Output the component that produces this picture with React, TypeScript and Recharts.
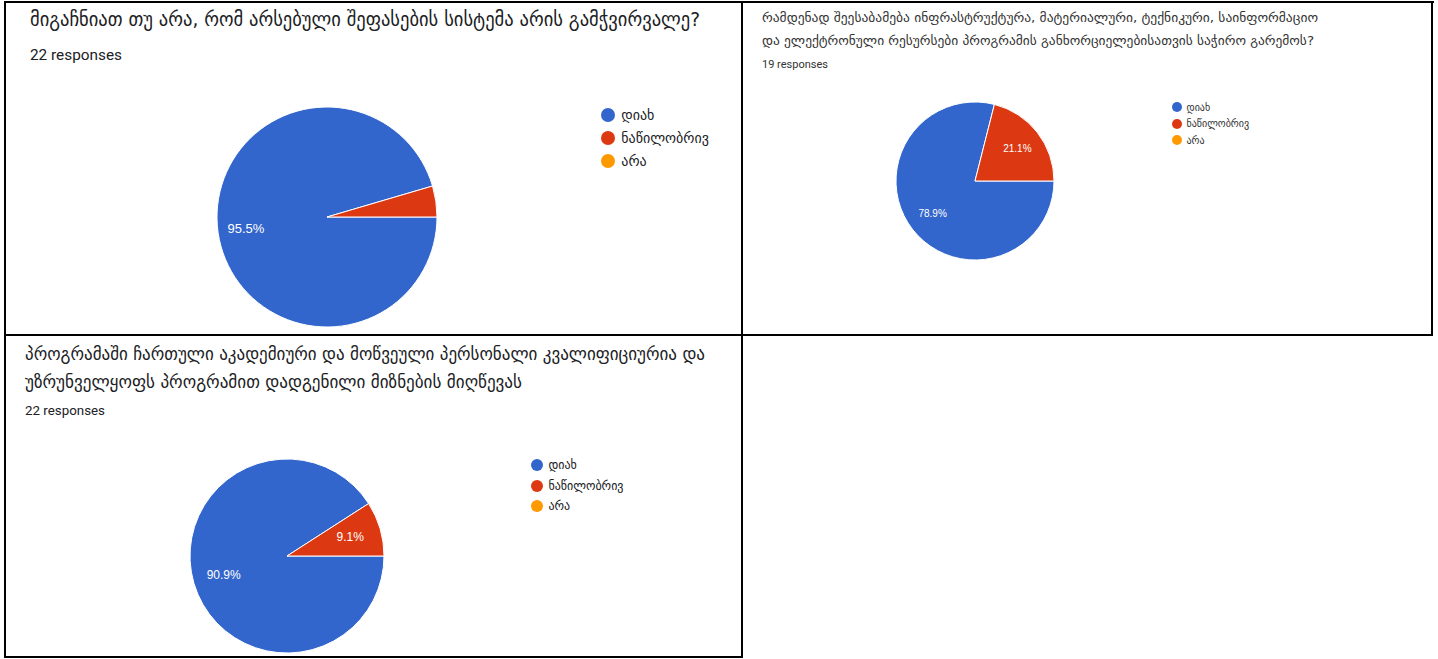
import React from 'react';
import { PieChart, Pie, Cell, Legend } from 'recharts';

const CATEGORIES = ['დიახ', 'ნაწილობრივ', 'არა'];
const COLORS = ['#3366cc', '#dc3912', '#ff9900'];

const Q1_VALUES = [21, 1, 0];
const Q2_VALUES = [15, 4, 0];
const Q3_VALUES = [20, 2, 0];

const Q1_TITLE = ['მიგაჩნიათ თუ არა, რომ არსებული შეფასების სისტემა არის გამჭვირვალე?'];
const Q2_TITLE = [
  'რამდენად შეესაბამება ინფრასტრუქტურა, მატერიალური, ტექნიკური, საინფორმაციო',
  'და ელექტრონული რესურსები პროგრამის განხორციელებისათვის საჭირო გარემოს?',
];
const Q3_TITLE = [
  'პროგრამაში ჩართული აკადემიური და მოწვეული პერსონალი კვალიფიციურია და',
  'უზრუნველყოფს პროგრამით დადგენილი მიზნების მიღწევას',
];

const Q1_RESPONSES = '22 responses';
const Q2_RESPONSES = '19 responses';
const Q3_RESPONSES = '22 responses';

const RADIAN = Math.PI / 180;
const GEO_FONT = "'DejaVu Sans', 'Noto Sans', sans-serif";
const UI_FONT = "Roboto, 'Liberation Sans', Arial, sans-serif";

type Cfg = {
  x: number; y: number; w: number; h: number;
  cx: number; cy: number; r: number;
  labelFactor: number; labelSize: number;
  legendX: number; legendY: number; legendGap: number; dotR: number; legendSize: number;
  titleX: number; titleBaselines: number[]; titleSize: number; titleWidths: number[];
  respBaseline: number; respSize: number; respWidth: number;
  textColor: string;
};

function Titles({ title, responses, cfg }: { title: string[]; responses: string; cfg: Cfg }) {
  return (
    <g>
      {title.map((line, i) => (
        <text key={i} x={cfg.titleX} y={cfg.titleBaselines[i]} fontFamily={GEO_FONT}
          fontSize={cfg.titleSize} fill={cfg.textColor} textLength={cfg.titleWidths[i]} lengthAdjust="spacingAndGlyphs">
          {line}
        </text>
      ))}
      <text x={cfg.titleX} y={cfg.respBaseline} fontFamily={UI_FONT} fontSize={cfg.respSize}
        fill={cfg.textColor} textLength={cfg.respWidth} lengthAdjust="spacingAndGlyphs">
        {responses}
      </text>
    </g>
  );
}

function PieCell({ values, cfg }: { values: number[]; cfg: Cfg }) {
  const data = CATEGORIES.map((name, i) => ({ name, value: values[i] }));
  const renderLabel = (props: any) => {
    const { cx, cy, midAngle, outerRadius, percent } = props;
    if (!percent || percent < 0.05) return null;
    const rr = outerRadius * cfg.labelFactor;
    const x = cx + rr * Math.cos(-midAngle * RADIAN);
    const y = cy + rr * Math.sin(-midAngle * RADIAN);
    return (
      <text x={x} y={y} fill="#ffffff" textAnchor="middle" dominantBaseline="central"
        fontFamily="Arial, 'Liberation Sans', sans-serif" fontSize={cfg.labelSize}>
        {(percent * 100).toFixed(1) + '%'}
      </text>
    );
  };
  const legendContent = () => (
    <div style={{ fontFamily: GEO_FONT, fontSize: cfg.legendSize, color: cfg.textColor }}>
      {CATEGORIES.map((name, i) => (
        <div key={name} style={{ height: cfg.legendGap, display: 'flex', alignItems: 'center', whiteSpace: 'nowrap' }}>
          <span style={{ display: 'inline-block', width: cfg.dotR * 2, height: cfg.dotR * 2, borderRadius: '50%', background: COLORS[i], marginRight: cfg.dotR * 0.9 }} />
          <span>{name}</span>
        </div>
      ))}
    </div>
  );
  return (
    <div style={{ position: 'absolute', left: cfg.x, top: cfg.y, width: cfg.w, height: cfg.h }}>
      <PieChart width={cfg.w} height={cfg.h} margin={{ top: 0, right: 0, bottom: 0, left: 0 }}>
        <Pie data={data} dataKey="value" nameKey="name" cx={cfg.cx - cfg.x} cy={cfg.cy - cfg.y}
          outerRadius={cfg.r} innerRadius={0} startAngle={0} endAngle={-360}
          stroke="#ffffff" strokeWidth={1} label={renderLabel} labelLine={false}
          isAnimationActive={false}>
          {data.map((d, i) => (
            <Cell key={d.name} fill={COLORS[i]} />
          ))}
        </Pie>
        <Legend content={legendContent} layout="vertical"
          wrapperStyle={{ position: 'absolute', left: cfg.legendX - cfg.dotR - cfg.x, top: cfg.legendY - cfg.legendGap / 2 - cfg.y, width: 'auto' }} />
      </PieChart>
    </div>
  );
}

const CFG1: Cfg = {
  x: 6, y: 60, w: 735, h: 274,
  cx: 327, cy: 217, r: 110, labelFactor: 0.745, labelSize: 13,
  legendX: 608, legendY: 115, legendGap: 23, dotR: 7, legendSize: 14,
  titleX: 30, titleBaselines: [26], titleSize: 20, titleWidths: [670],
  respBaseline: 60, respSize: 14, respWidth: 92, textColor: '#202124',
};
const CFG2: Cfg = {
  x: 743, y: 72, w: 688, h: 262,
  cx: 975, cy: 181, r: 79, labelFactor: 0.68, labelSize: 10,
  legendX: 1177, legendY: 107, legendGap: 16.5, dotR: 5, legendSize: 10,
  titleX: 762, titleBaselines: [22, 45], titleSize: 13, titleWidths: [556, 552],
  respBaseline: 68, respSize: 10, respWidth: 66, textColor: '#333333',
};
const CFG3: Cfg = {
  x: 6, y: 420, w: 735, h: 236,
  cx: 287, cy: 556, r: 97, labelFactor: 0.68, labelSize: 12,
  legendX: 537, legendY: 465, legendGap: 20.5, dotR: 6, legendSize: 12,
  titleX: 25, titleBaselines: [360, 388], titleSize: 18, titleWidths: [680, 497],
  respBaseline: 415, respSize: 12.5, respWidth: 80, textColor: '#202124',
};

export default function App() {
  const line = '#000000';
  return (
    <div style={{ position: 'absolute', left: 0, top: 0, width: 1438, height: 659, background: '#ffffff', overflow: 'hidden' }}>
      <svg width={1438} height={659} style={{ position: 'absolute', left: 0, top: 0 }}>
        <Titles title={Q1_TITLE} responses={Q1_RESPONSES} cfg={CFG1} />
        <Titles title={Q2_TITLE} responses={Q2_RESPONSES} cfg={CFG2} />
        <Titles title={Q3_TITLE} responses={Q3_RESPONSES} cfg={CFG3} />
      </svg>
      <PieCell values={Q1_VALUES} cfg={CFG1} />
      <PieCell values={Q2_VALUES} cfg={CFG2} />
      <PieCell values={Q3_VALUES} cfg={CFG3} />
      {/* table borders */}
      <div style={{ position: 'absolute', left: 4, top: 1, width: 1430, height: 2, background: line }} />
      <div style={{ position: 'absolute', left: 4, top: 1, width: 2, height: 657, background: line }} />
      <div style={{ position: 'absolute', left: 741, top: 1, width: 2, height: 657, background: line }} />
      <div style={{ position: 'absolute', left: 1431, top: 1, width: 2, height: 335, background: line }} />
      <div style={{ position: 'absolute', left: 4, top: 334, width: 1429, height: 2, background: line }} />
      <div style={{ position: 'absolute', left: 4, top: 656, width: 739, height: 2, background: line }} />
    </div>
  );
}
